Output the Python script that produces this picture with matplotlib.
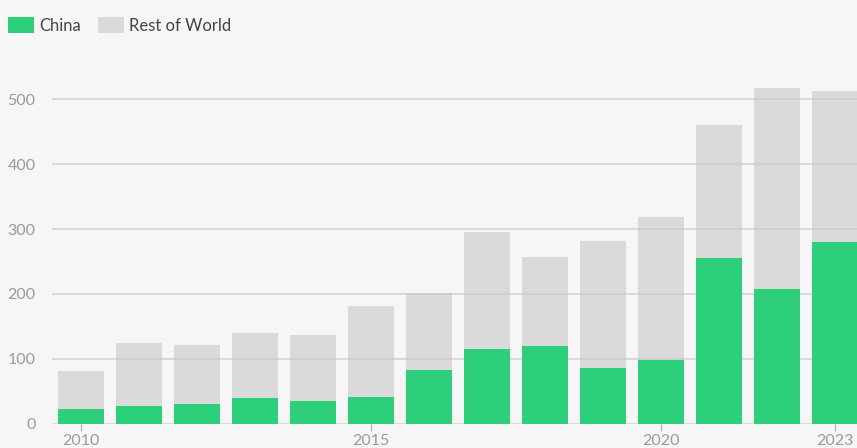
import matplotlib
matplotlib.use("Agg")
import matplotlib.pyplot as plt
import numpy as np

# data
years = list(range(2010, 2024))
china = [23, 28, 31, 40, 35, 42, 83, 115, 120, 86, 98, 255, 208, 280]
total = [82, 125, 122, 140, 137, 182, 201, 295, 257, 282, 318, 460, 517, 512]
rest = [t - c for t, c in zip(total, china)]

green = "#2dcf7b"
grey = "#c8c8c8"
bg = "#f6f6f6"

plt.rcParams["font.family"] = ["Lato", "DejaVu Sans"]

fig = plt.figure(figsize=(8.57, 4.48), dpi=100, facecolor=bg)
ax = fig.add_axes([0.061, 0.054, 0.939, 0.768], facecolor=bg)

# grid behind, grey bars a bit see-through so the lines show faintly
ax.yaxis.grid(True, color="#d4d4d4", linewidth=1.2, zorder=0)
ax.set_axisbelow(True)
ax.bar(years, china, width=0.8, color=green, label="China", zorder=2)
ax.bar(years, rest, bottom=china, width=0.8, color=grey, alpha=0.6,
       label="Rest of World", zorder=2)

ax.set_xlim(2009.5, 2023.38)
ax.set_ylim(0, 530)
ax.set_yticks([0, 100, 200, 300, 400, 500])
ax.set_xticks([2010, 2015, 2020, 2023])
for s in ax.spines.values():
    s.set_visible(False)
ax.tick_params(axis="y", length=0, pad=12, labelsize=11.5, labelcolor="#9a9a9a")
ax.tick_params(axis="x", length=5, color="#aaaaaa", pad=2, labelsize=11.5, labelcolor="#9a9a9a")

fig.legend(loc="upper left", bbox_to_anchor=(0.001, 0.976), ncol=2, frameon=False,
           fontsize=12, handlelength=1.6, handleheight=1.1, handletextpad=0.3,
           columnspacing=1.0, labelcolor="#444444", borderaxespad=0)

fig.savefig("out.png", dpi=100, facecolor=bg)
